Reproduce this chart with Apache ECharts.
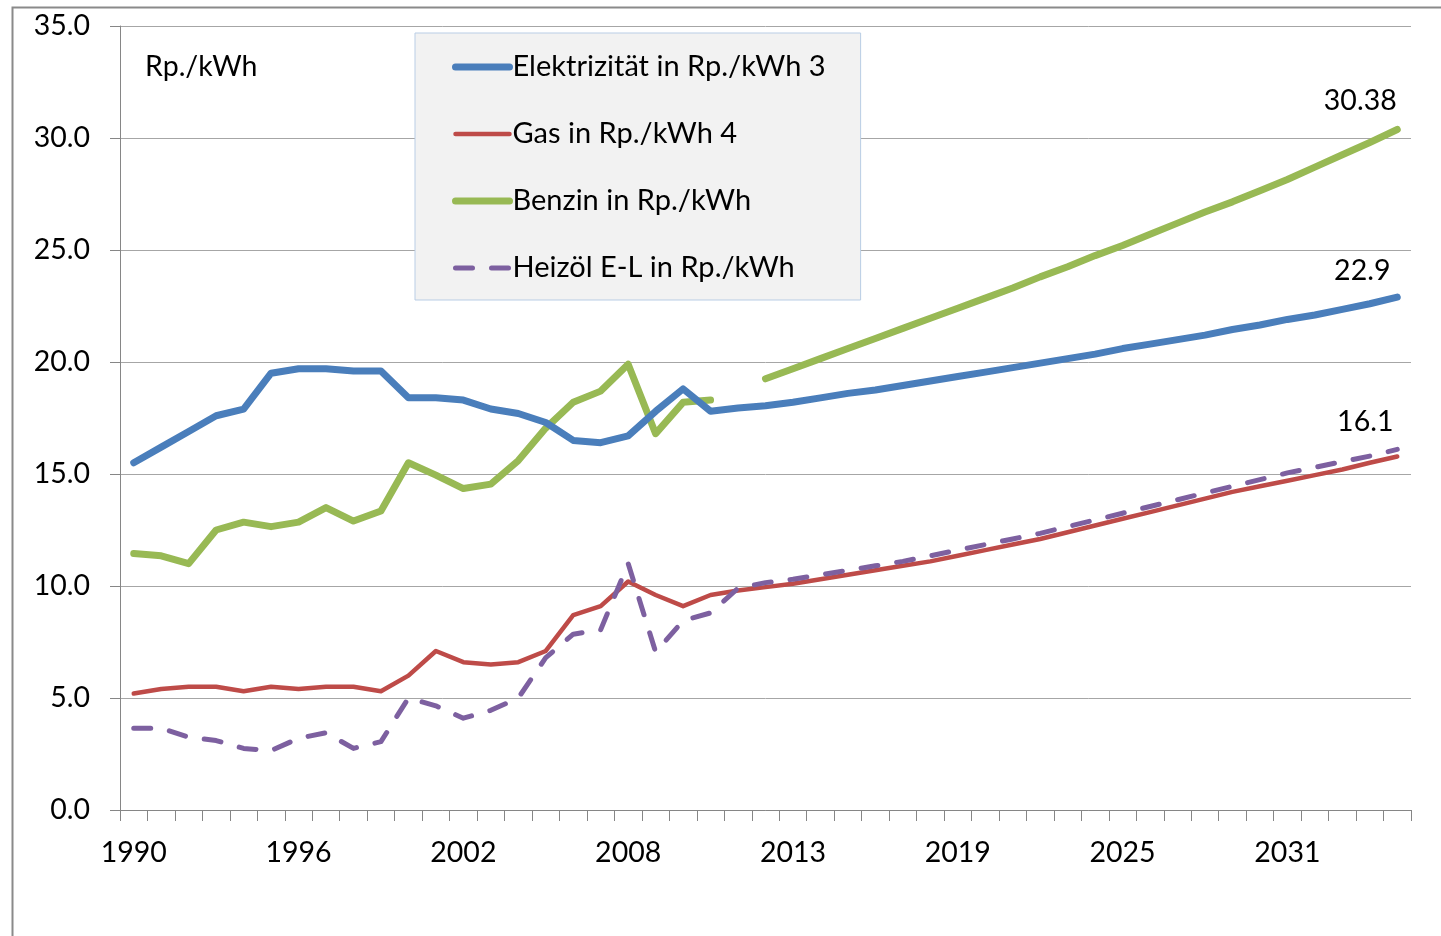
<!DOCTYPE html>
<html>
<head>
<meta charset="utf-8">
<script src="https://cdn.jsdelivr.net/npm/echarts@6/dist/echarts.min.js"></script>
<style>
html,body{margin:0;padding:0;background:#fff;}
#chart{width:1441px;height:936px;}
</style>
</head>
<body>
<div id="chart"></div>
<script>
// Categories: historic years, one separator slot, projection years
const categories = [
  '1990','1991','1992','1993','1994','1995','1996','1997','1998','1999',
  '2000','2001','2002','2003','2004','2005','2006','2007','2008','2009',
  '2010','2011','',
  '2012','2013','2014','2015','2016','2017','2018','2019','2020','2021',
  '2022','2023','2024','2025','2026','2027','2028','2029','2030','2031',
  '2032','2033','2034','2035'
];
const yTicks = [0, 5, 10, 15, 20, 25, 30, 35];

const elektrizitaet = [
  15.5, 16.2, 16.9, 17.6, 17.9, 19.5, 19.7, 19.7, 19.6, 19.6,
  18.4, 18.4, 18.3, 17.9, 17.7, 17.3, 16.5, 16.4, 16.7, 17.8,
  18.8, 17.8, 17.95,
  18.05, 18.2, 18.4, 18.6, 18.75, 18.95, 19.15, 19.35, 19.55, 19.75,
  19.95, 20.15, 20.35, 20.6, 20.8, 21.0, 21.2, 21.45, 21.65, 21.9,
  22.1, 22.35, 22.6, 22.9
];
const gas = [
  5.2, 5.4, 5.5, 5.5, 5.3, 5.5, 5.4, 5.5, 5.5, 5.3,
  6.0, 7.1, 6.6, 6.5, 6.6, 7.1, 8.7, 9.1, 10.2, 9.6,
  9.1, 9.6, 9.8,
  9.95, 10.1, 10.3, 10.5, 10.7, 10.9, 11.1, 11.35, 11.6, 11.85,
  12.1, 12.4, 12.7, 13.0, 13.3, 13.6, 13.9, 14.2, 14.45, 14.7,
  14.95, 15.2, 15.5, 15.78
];
const benzin = [
  11.45, 11.35, 11.0, 12.5, 12.85, 12.65, 12.85, 13.5, 12.9, 13.35,
  15.5, 14.95, 14.35, 14.55, 15.6, 17.05, 18.2, 18.7, 19.9, 16.8,
  18.2, 18.3, null,
  19.25, 19.7, 20.15, 20.6, 21.05, 21.5, 21.95, 22.4, 22.85, 23.3,
  23.8, 24.25, 24.75, 25.2, 25.7, 26.2, 26.7, 27.15, 27.65, 28.15,
  28.7, 29.25, 29.8, 30.38
];
const heizoel = [
  3.65, 3.65, 3.25, 3.1, 2.75, 2.65, 3.2, 3.45, 2.75, 3.05,
  5.0, 4.65, 4.1, 4.45, 5.0, 6.8, 7.85, 8.05, 11.0, 7.05,
  8.45, 8.8, 9.9,
  10.15, 10.3, 10.5, 10.7, 10.9, 11.1, 11.35, 11.6, 11.85, 12.1,
  12.35, 12.65, 12.95, 13.25, 13.55, 13.85, 14.15, 14.45, 14.75, 15.05,
  15.3, 15.55, 15.8, 16.1
];
const seriesNames = [
  'Elektrizität in Rp./kWh 3',
  'Gas in Rp./kWh 4',
  'Benzin in Rp./kWh',
  'Heizöl E-L in Rp./kWh'
];
const unitText = 'Rp./kWh';

const FONT = 'Lato';
const FS = 28.5;
const lastIdx = categories.length - 1;
const colors = ['#4a7ebb', '#be4b48', '#98b954', '#7d60a0'];

function withEndLabel(arr, offset, color) {
  return arr.map((v, i) => {
    if (i !== lastIdx) return v;
    return {
      value: v,
      symbol: 'circle',
      symbolSize: 1,
      itemStyle: {color: color},
      label: {
        show: true, position: 'top', offset: offset, distance: 5,
        formatter: String(v),
        fontFamily: FONT, fontSize: FS, color: '#000'
      }
    };
  });
}

const chart = echarts.init(document.getElementById('chart'), null, {renderer: 'canvas'});
const option = {
  animation: false,
  backgroundColor: '#fff',
  grid: {left: 120, right: 30, top: 26, bottom: 126, containLabel: false},
  xAxis: {
    type: 'category',
    data: categories,
    boundaryGap: true,
    axisLine: {show: true, lineStyle: {color: '#868686', width: 1}},
    axisTick: {show: true, interval: 0, length: 11, alignWithLabel: false, lineStyle: {color: '#868686'}},
    axisLabel: {interval: 5, margin: 28, fontFamily: FONT, fontSize: FS, color: '#000'},
    splitLine: {show: false}
  },
  yAxis: {
    type: 'value',
    min: yTicks[0], max: yTicks[yTicks.length - 1], interval: 5,
    axisLine: {show: true, lineStyle: {color: '#868686', width: 1}},
    axisTick: {show: true, length: 10, inside: false, lineStyle: {color: '#868686'}},
    axisLabel: {margin: 30, fontFamily: FONT, fontSize: FS, color: '#000',
      formatter: v => v.toFixed(1)},
    splitLine: {show: true, lineStyle: {color: '#a6a6a6', width: 1}}
  },
  legend: {
    show: true,
    orient: 'vertical',
    left: 415, top: 33,
    data: [
      {name: seriesNames[0], lineStyle: {width: 7, cap: 'round'}},
      {name: seriesNames[1], lineStyle: {width: 4.5, cap: 'round'}},
      {name: seriesNames[2], lineStyle: {width: 7, cap: 'round'}},
      {name: seriesNames[3], lineStyle: {width: 5, cap: 'round', type: [17, 19]}}
    ],
    itemStyle: {opacity: 0},
    backgroundColor: '#f2f2f2',
    borderColor: '#b9cde5',
    borderWidth: 1,
    padding: [19, 35, 17, 37],
    itemWidth: 54, itemHeight: 14,
    itemGap: 37,
    textStyle: {fontFamily: FONT, fontSize: 29, color: '#000', lineHeight: 30, padding: [0, 0, 0, -2]},
    selectedMode: false
  },
  graphic: [
    {type: 'rect', left: 10, top: 5, silent: true,
      shape: {width: 1440, height: 940},
      style: {fill: 'none', stroke: '#8a8a8a', lineWidth: 2}},
    {type: 'text', left: 145, top: 52,
      style: {text: unitText, font: FS + 'px Lato', fill: '#000'}}
  ],
  series: [
    {
      name: seriesNames[0], type: 'line', data: withEndLabel(elektrizitaet, [-35, -6], colors[0]),
      symbol: 'none', z: 3,
      lineStyle: {color: colors[0], width: 7, cap: 'round', join: 'round'},
      itemStyle: {color: colors[0]}
    },
    {
      name: seriesNames[1], type: 'line', data: gas,
      symbol: 'none', z: 4,
      lineStyle: {color: colors[1], width: 4.5, cap: 'round', join: 'round'},
      itemStyle: {color: colors[1]}
    },
    {
      name: seriesNames[2], type: 'line', data: withEndLabel(benzin, [-37, -9], colors[2]),
      symbol: 'none', z: 2, connectNulls: false,
      lineStyle: {color: colors[2], width: 7, cap: 'round', join: 'round'},
      itemStyle: {color: colors[2]}
    },
    {
      name: seriesNames[3], type: 'line', data: withEndLabel(heizoel, [-32, -8], colors[3]),
      symbol: 'none', z: 5,
      lineStyle: {color: colors[3], width: 5, type: [17, 19], cap: 'round', join: 'round'},
      itemStyle: {color: colors[3]}
    }
  ]
};
chart.setOption(option);
</script>
</body>
</html>
